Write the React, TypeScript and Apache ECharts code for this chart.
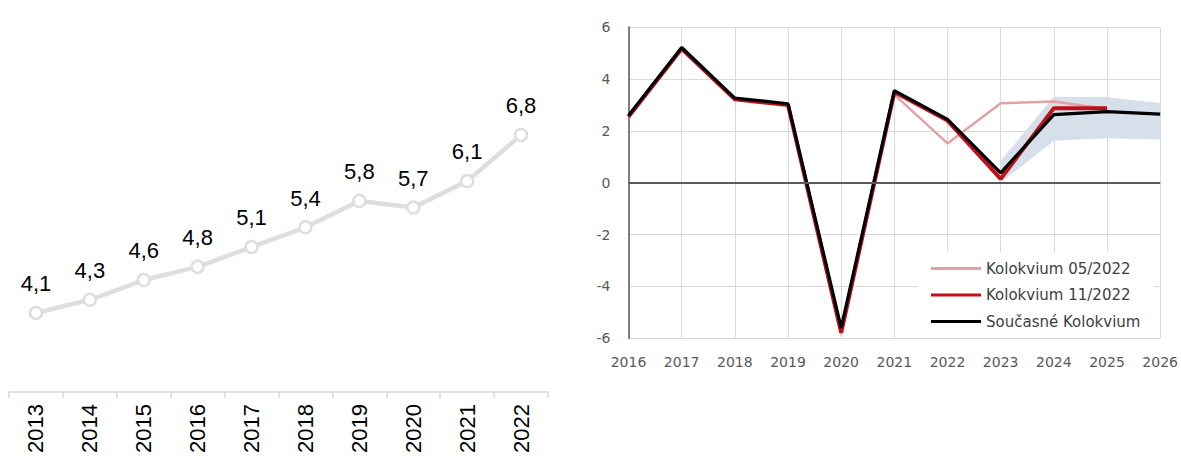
import React, { useEffect, useRef } from "react";
import * as echarts from "echarts";

// Left chart
const leftYears = ["2013", "2014", "2015", "2016", "2017", "2018", "2019", "2020", "2021", "2022"];
const leftValues = [4.1, 4.3, 4.6, 4.8, 5.1, 5.4, 5.8, 5.7, 6.1, 6.8];

// Right chart
const rightYears = ["2016", "2017", "2018", "2019", "2020", "2021", "2022", "2023", "2024", "2025", "2026"];
const currentColloquium = [2.6, 5.22, 3.27, 3.05, -5.6, 3.56, 2.45, 0.38, 2.63, 2.75, 2.65];
const colloquium112022 = [2.55, 5.17, 3.22, 3.0, -5.78, 3.5, 2.4, 0.15, 2.88, 2.88, null];
const colloquium052022 = [2.55, 5.17, 3.22, 3.0, -5.85, 3.4, 1.52, 3.07, 3.14, 2.85, null];
const bandLower = [null, null, null, null, null, null, null, -0.35, 1.62, 1.72, 1.67];
const bandUpper = [null, null, null, null, null, null, null, 0.5, 3.32, 3.3, 3.08];
const rightYTicks = { min: -6, max: 6, step: 2 };
const legendNames = ["Kolokvium 05/2022", "Kolokvium 11/2022", "Současné Kolokvium"];

export default function App() {
  const ref = useRef<HTMLDivElement>(null);
  useEffect(() => {
    if (!ref.current) return;
    const chart = echarts.init(ref.current, undefined, { renderer: "svg" });
    const bandDiff = bandUpper.map((u, i) =>
      u == null || bandLower[i] == null ? null : +(u - (bandLower[i] as number)).toFixed(3)
    );
    const axisFont = "DejaVu Sans";
    chart.setOption({
      animation: false,
      backgroundColor: "#ffffff",
      grid: [
        { left: 9, width: 539, top: 121.8, height: 263.7 },
        { left: 628.5, width: 533, top: 27.3, height: 311 },
      ],
      xAxis: [
        {
          gridIndex: 0,
          type: "category",
          data: leftYears,
          boundaryGap: true,
          offset: 6.5,
          axisLine: { show: true, lineStyle: { color: "#d9d9d9", width: 1.5 } },
          axisTick: { show: true, length: 6, lineStyle: { color: "#d9d9d9", width: 1.5 } },
          axisLabel: {
            rotate: 90,
            interval: 0,
            margin: 12,
            color: "#000000",
            fontSize: 22,
            fontFamily: "Liberation Sans",
          },
          splitLine: { show: false },
        },
        {
          gridIndex: 1,
          type: "category",
          data: rightYears,
          boundaryGap: false,
          axisLine: { show: false },
          axisTick: { show: false },
          axisLabel: {
            interval: 0,
            margin: 17,
            color: "#595959",
            fontSize: 14,
            fontFamily: axisFont,
            showMinLabel: true,
            showMaxLabel: true,
          },
          splitLine: { show: true, interval: 0, lineStyle: { color: "#d9d9d9", width: 1 } },
        },
      ],
      yAxis: [
        { gridIndex: 0, type: "value", min: 3, max: 7, show: false },
        {
          gridIndex: 1,
          type: "value",
          min: rightYTicks.min,
          max: rightYTicks.max,
          interval: rightYTicks.step,
          axisLine: { show: true, lineStyle: { color: "#7f7f7f", width: 2 } },
          axisTick: { show: false },
          axisLabel: { color: "#595959", fontSize: 14, fontFamily: axisFont, margin: 18 },
          splitLine: { show: true, lineStyle: { color: "#d9d9d9", width: 1 } },
        },
      ],
      legend: {
        data: legendNames,
        orient: "vertical",
        left: 918,
        top: 252,
        padding: [9, 13, 9, 13],
        itemGap: 11.5,
        itemWidth: 50,
        itemHeight: 3,
        icon: "rect",
        backgroundColor: "#ffffff",
        textStyle: { color: "#404040", fontSize: 15, fontFamily: axisFont },
        selectedMode: false,
      },
      series: [
        {
          name: "left",
          type: "line",
          xAxisIndex: 0,
          yAxisIndex: 0,
          data: leftValues,
          symbol: "circle",
          symbolSize: 12,
          showAllSymbol: true,
          lineStyle: { color: "#dedede", width: 4.5 },
          itemStyle: { color: "#ffffff", borderColor: "#dedede", borderWidth: 2.5 },
          label: {
            show: true,
            position: "top",
            distance: 11,
            color: "#000000",
            fontSize: 22,
            fontFamily: "Liberation Sans",
            formatter: (p: any) => String(p.value).replace(".", ","),
          },
          silent: true,
        },
        {
          name: "bandBase",
          type: "line",
          xAxisIndex: 1,
          yAxisIndex: 1,
          stack: "band",
          data: bandLower,
          symbol: "none",
          lineStyle: { opacity: 0 },
          silent: true,
          markLine: {
            silent: true,
            symbol: ["none", "none"],
            label: { show: false },
            lineStyle: { color: "#595959", width: 2, type: "solid" },
            data: [{ yAxis: 0 }],
          },
        },
        {
          name: "band",
          type: "line",
          xAxisIndex: 1,
          yAxisIndex: 1,
          stack: "band",
          data: bandDiff,
          symbol: "none",
          lineStyle: { opacity: 0 },
          areaStyle: { color: "#d6dfea", opacity: 1 },
          silent: true,
        },
        {
          name: legendNames[0],
          type: "line",
          xAxisIndex: 1,
          yAxisIndex: 1,
          data: colloquium052022,
          symbol: "none",
          lineStyle: { color: "#e3a1a3", width: 2.5 },
          itemStyle: { color: "#e3a1a3" },
        },
        {
          name: legendNames[1],
          type: "line",
          xAxisIndex: 1,
          yAxisIndex: 1,
          data: colloquium112022,
          symbol: "none",
          lineStyle: { color: "#c0101a", width: 4 },
          itemStyle: { color: "#c0101a" },
        },
        {
          name: legendNames[2],
          type: "line",
          xAxisIndex: 1,
          yAxisIndex: 1,
          data: currentColloquium,
          symbol: "none",
          lineStyle: { color: "#000000", width: 3.2 },
          itemStyle: { color: "#000000" },
        },
      ],
    });
    return () => chart.dispose();
  }, []);
  return (
    <div
      ref={ref}
      style={{ position: "fixed", left: 0, top: 0, width: 1181, height: 459 }}
    />
  );
}
